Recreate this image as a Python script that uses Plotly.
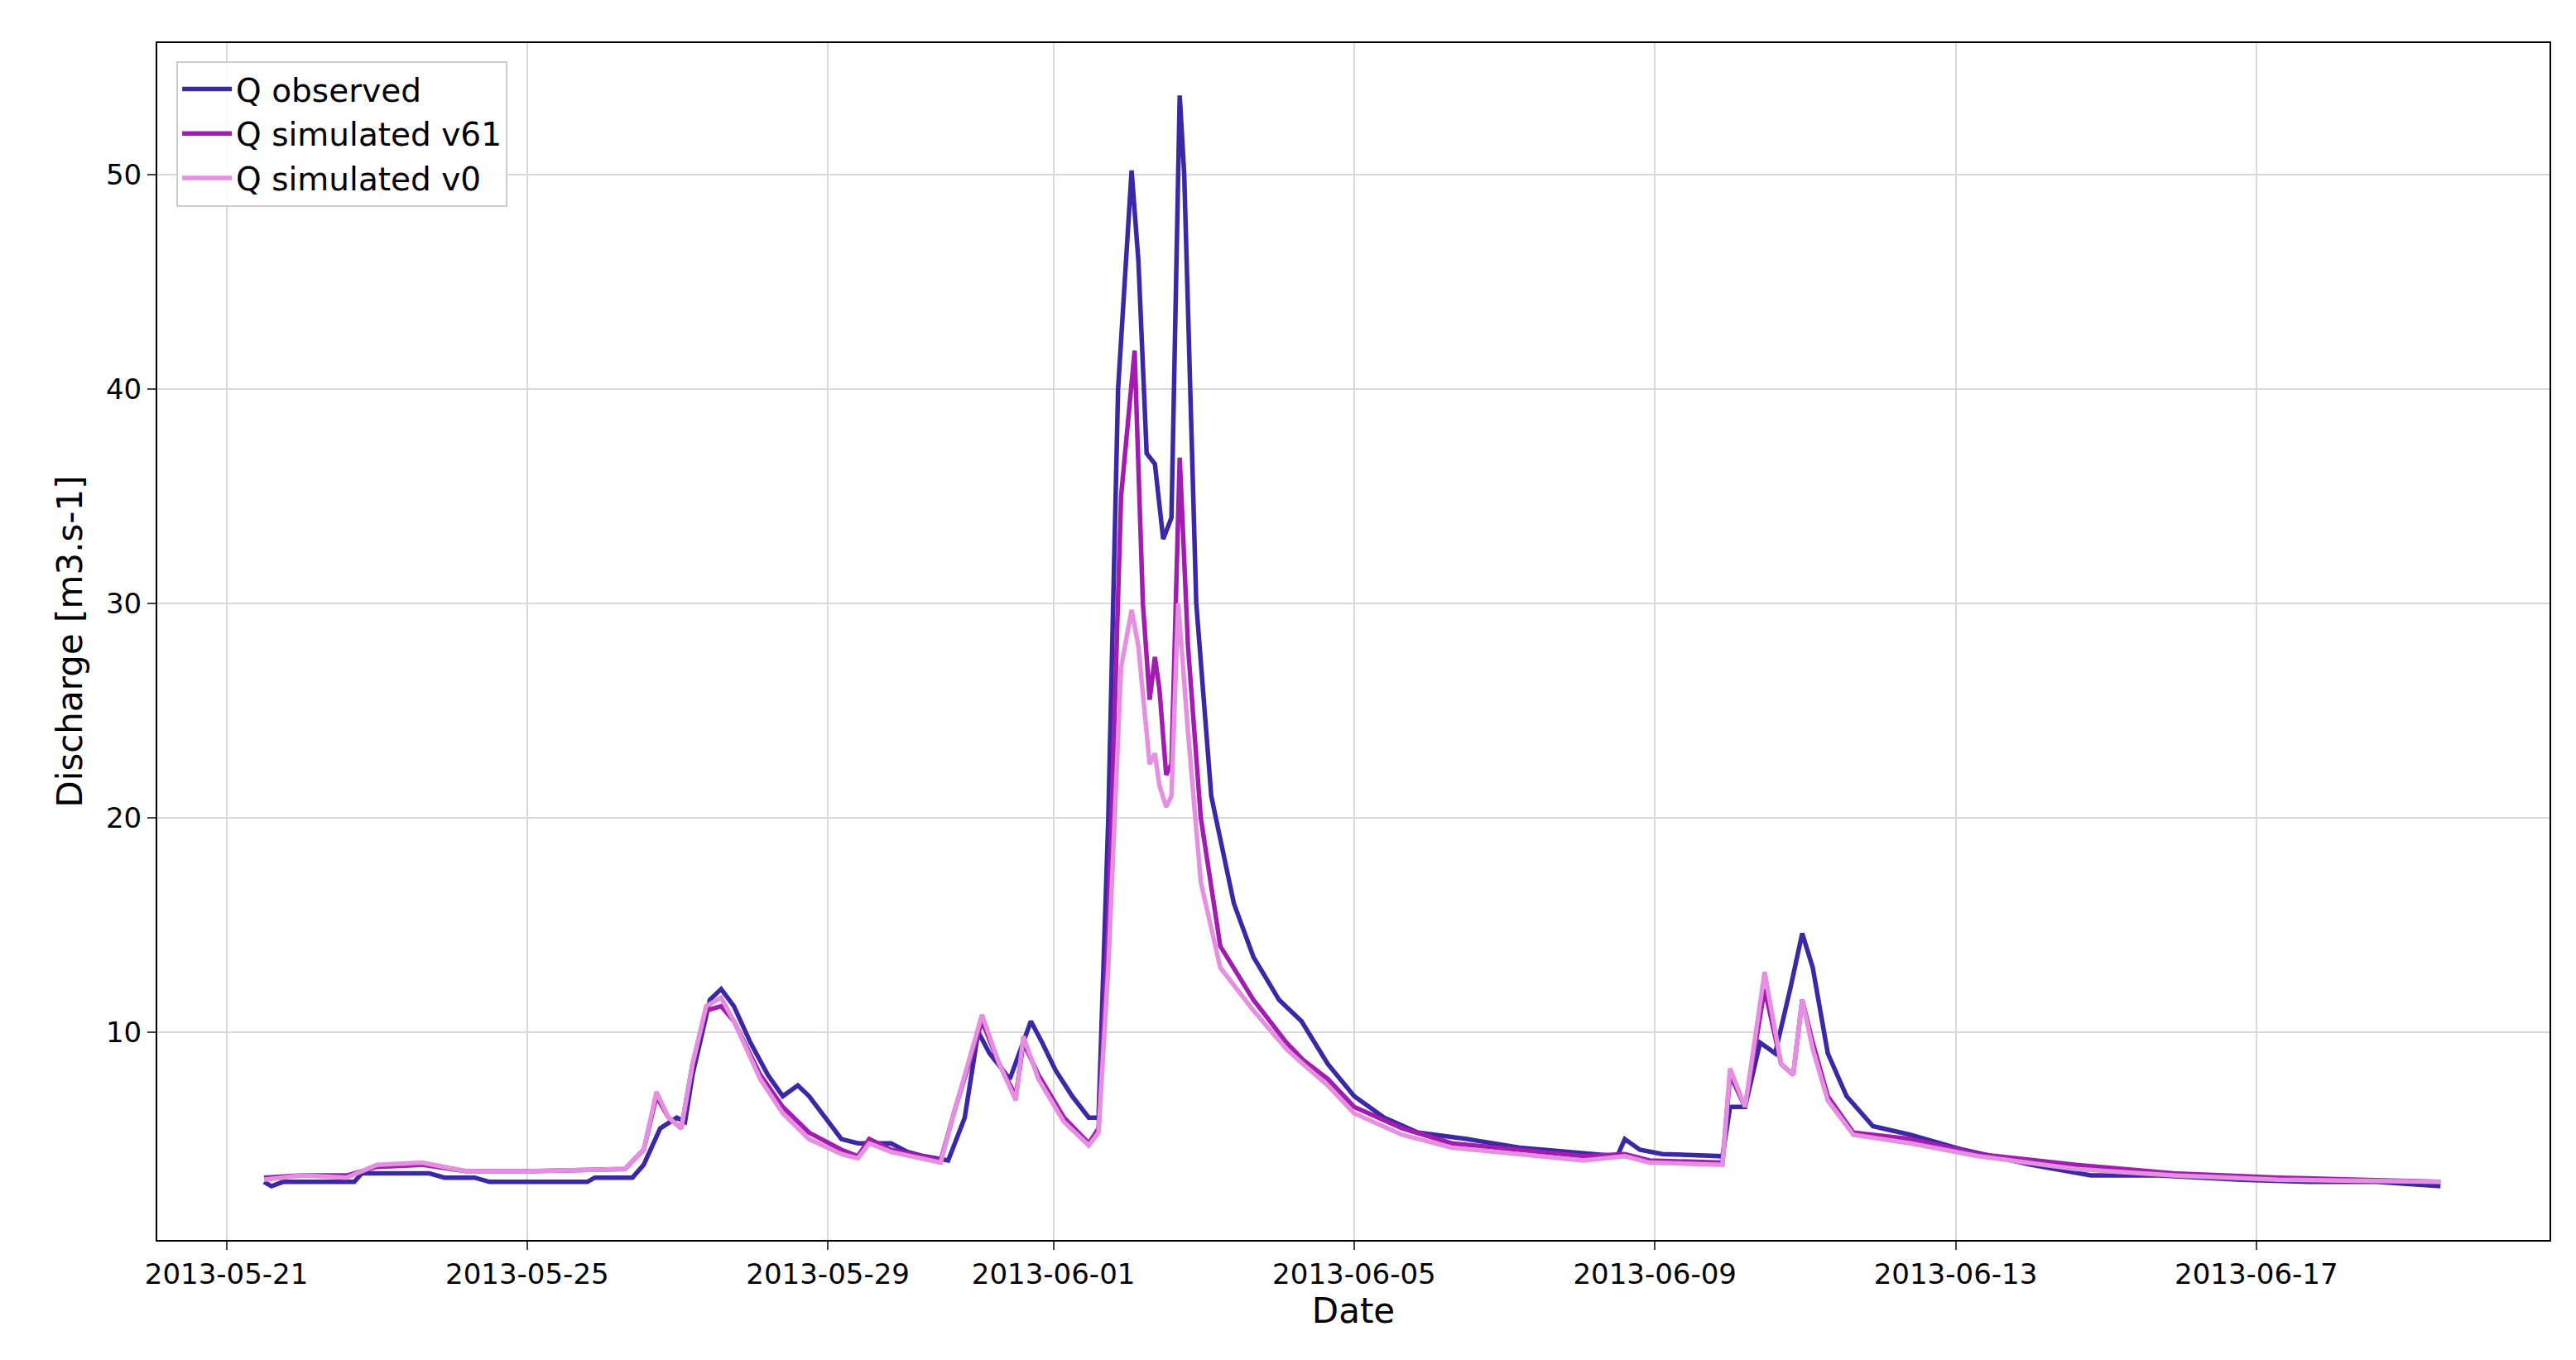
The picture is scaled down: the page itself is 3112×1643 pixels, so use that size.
import plotly.graph_objects as go
import pandas as pd

START = pd.Timestamp("2013-05-21")

# time in days since 2013-05-21 00:00, discharge in m3/s
obs_t = [0.5,0.6,0.75,1.7,1.8,2.7,2.9,3.3,3.5,4.8,4.9,5.4,5.55,5.77,5.99,6.1,6.2,6.43,6.58,6.75,6.97,7.2,7.4,7.6,7.75,7.96,8.18,8.4,8.84,9.06,9.28,9.6,9.82,10.0,10.15,10.42,10.55,10.7,10.85,11.03,11.25,11.47,11.6,11.73,11.86,12.04,12.13,12.24,12.35,12.46,12.57,12.68,12.74,12.9,13.1,13.4,13.66,14.0,14.3,14.65,15.0,15.4,15.85,16.5,17.2,17.8,18.5,18.6,18.8,19.1,19.9,20.0,20.2,20.4,20.6,20.8,20.96,21.1,21.3,21.55,21.9,22.4,23.1,24.0,24.8,25.7,26.8,27.7,28.6,29.45]
obs_q = [3.0,2.8,3.0,3.0,3.4,3.4,3.2,3.2,3.0,3.0,3.2,3.2,3.8,5.5,6.0,5.8,8.0,11.5,12.0,11.2,9.5,8.0,7.0,7.5,7.0,6.0,5.0,4.8,4.8,4.4,4.2,4.0,6.0,10.0,9.0,7.8,9.0,10.5,9.5,8.2,7.0,6.0,6.0,20.0,40.0,50.2,46.0,37.0,36.5,33.0,34.0,53.7,50.0,30.0,21.0,16.0,13.5,11.5,10.5,8.5,7.0,6.0,5.3,5.0,4.6,4.4,4.2,5.0,4.5,4.3,4.2,6.5,6.5,9.5,9.0,12.0,14.6,13.0,9.0,7.0,5.6,5.2,4.5,3.8,3.3,3.3,3.1,3.0,3.0,2.8]

v61_t = [0.5,1.0,1.6,2.0,2.6,3.2,4.0,5.3,5.55,5.72,5.88,6.05,6.2,6.38,6.58,6.75,7.1,7.4,7.75,8.18,8.4,8.55,8.84,9.5,9.7,10.05,10.28,10.5,10.6,10.8,11.14,11.47,11.6,11.73,11.9,12.08,12.19,12.28,12.35,12.41,12.5,12.57,12.68,12.79,12.96,13.22,13.66,14.1,14.32,14.65,15.0,15.64,16.3,17.2,18.05,18.6,18.93,19.9,20.0,20.2,20.46,20.68,20.84,20.96,21.1,21.3,21.64,22.4,23.3,24.6,25.9,27.3,29.45]
v61_q = [3.2,3.3,3.3,3.7,3.8,3.5,3.5,3.6,4.5,7.0,6.0,5.5,8.5,11.0,11.2,10.5,8.0,6.5,5.3,4.5,4.2,5.0,4.5,4.0,6.5,10.5,8.5,7.0,9.5,8.0,6.0,4.8,5.5,15.0,35.0,41.8,30.0,25.5,27.5,26.0,22.0,22.5,36.8,28.0,20.0,14.0,11.5,9.5,8.7,7.8,6.5,5.5,4.8,4.5,4.2,4.3,4.0,3.9,8.0,6.5,12.0,8.5,8.0,11.5,9.5,7.0,5.3,5.0,4.3,3.8,3.4,3.2,3.0]

v0_t = [0.5,1.0,1.6,2.0,2.6,3.2,4.0,5.3,5.55,5.72,5.88,6.05,6.2,6.38,6.58,6.75,7.1,7.4,7.75,8.18,8.4,8.55,8.84,9.5,9.7,10.05,10.28,10.5,10.6,10.8,11.14,11.47,11.6,11.73,11.9,12.04,12.13,12.28,12.35,12.41,12.5,12.57,12.66,12.79,12.96,13.22,13.66,14.1,14.32,14.65,15.0,15.64,16.3,17.2,18.05,18.6,18.93,19.9,20.0,20.2,20.46,20.68,20.84,20.96,21.1,21.3,21.64,22.4,23.3,24.6,25.9,27.3,29.45]
v0_q = [3.1,3.3,3.2,3.8,3.9,3.5,3.5,3.6,4.5,7.2,6.0,5.5,8.5,11.2,11.6,10.5,7.8,6.2,5.0,4.3,4.1,4.8,4.4,3.9,6.5,10.8,8.5,6.8,9.8,7.8,5.8,4.7,5.3,13.0,27.0,29.7,28.0,22.5,23.0,21.5,20.5,21.0,30.0,24.0,17.0,13.0,11.0,9.2,8.5,7.5,6.2,5.2,4.6,4.3,4.0,4.2,3.9,3.8,8.3,6.5,12.8,8.5,8.0,11.5,9.2,6.8,5.2,4.8,4.2,3.6,3.3,3.1,3.0]

tick_dates = ["2013-05-21","2013-05-25","2013-05-29","2013-06-01","2013-06-05","2013-06-09","2013-06-13","2013-06-17"]

def to_dates(days):
    return [START + pd.Timedelta(days=d) for d in days]

fig = go.Figure()
fig.add_trace(go.Scatter(x=to_dates(obs_t), y=obs_q, mode="lines", name="Q observed",
                         line=dict(color="#3a28a5", width=5.5)))
fig.add_trace(go.Scatter(x=to_dates(v61_t), y=v61_q, mode="lines", name="Q simulated v61",
                         line=dict(color="#a21caf", width=5.5)))
fig.add_trace(go.Scatter(x=to_dates(v0_t), y=v0_q, mode="lines", name="Q simulated v0",
                         line=dict(color="#e48fe0", width=5.5)))

font = "DejaVu Sans"
fig.update_layout(
    width=3112, height=1643, paper_bgcolor="white", plot_bgcolor="white",
    margin=dict(l=182, r=40, t=44, b=153),
    font=dict(family=font, size=34, color="black"),
    legend=dict(x=0.008, y=0.985, xanchor="left", yanchor="top", bordercolor="#cccccc",
                borderwidth=2, bgcolor="rgba(255,255,255,0.9)", font=dict(size=39),
                itemwidth=60, tracegroupgap=4),
    showlegend=True,
)
fig.update_xaxes(
    title=dict(text="Date", font=dict(size=42), standoff=10),
    range=[START + pd.Timedelta(days=-0.92), START + pd.Timedelta(days=30.9)],
    tickvals=tick_dates, ticktext=tick_dates,
    showgrid=True, gridcolor="#d9d9d9", gridwidth=2,
    showline=True, linecolor="black", linewidth=2, mirror=True,
    ticks="outside", ticklen=10, tickwidth=2, zeroline=False,
)
fig.update_yaxes(
    title=dict(text="Discharge [m3.s-1]", font=dict(size=42), standoff=15),
    range=[0.29, 56.15], tickvals=[10, 20, 30, 40, 50],
    showgrid=True, gridcolor="#d9d9d9", gridwidth=2,
    showline=True, linecolor="black", linewidth=2, mirror=True,
    ticks="outside", ticklen=10, tickwidth=2, zeroline=False,
)
fig.write_html("out.html")
